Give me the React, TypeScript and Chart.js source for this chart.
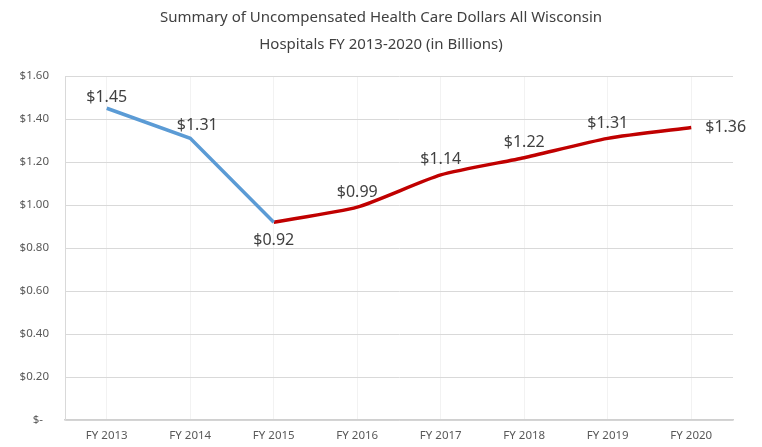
import React, { useEffect, useRef } from "react";
import { Chart, registerables } from "chart.js";

Chart.register(...registerables);

const categories = ["FY 2013", "FY 2014", "FY 2015", "FY 2016", "FY 2017", "FY 2018", "FY 2019", "FY 2020"];
const allValues = [1.45, 1.31, 0.92, 0.99, 1.14, 1.22, 1.31, 1.36];
const declineSeries = [1.45, 1.31, 0.92, null, null, null, null, null];
const recoverySeries = [null, null, 0.92, 0.99, 1.14, 1.22, 1.31, 1.36];
const titleLines = [
  "Summary of Uncompensated Health Care Dollars All Wisconsin",
  "Hospitals FY 2013-2020 (in Billions)",
];
const yMax = 1.6;
const yStep = 0.2;

const fmtMoney = (v: number) => (Math.abs(v) < 1e-9 ? "$-  " : "$" + v.toFixed(2));

const titlePlugin = {
  id: "centeredTitle",
  afterDraw(chart: any) {
    const { ctx, width } = chart;
    ctx.save();
    ctx.font = "15px 'Noto Sans'";
    ctx.fillStyle = "#404040";
    ctx.textAlign = "center";
    ctx.textBaseline = "middle";
    titleLines.forEach((t, i) => ctx.fillText(t, width / 2, 18 + i * 27));
    ctx.restore();
  },
};

const labelPlugin = {
  id: "valueLabels",
  afterDatasetsDraw(chart: any) {
    const { ctx, scales } = chart;
    const xs = scales.x;
    const ys = scales.y;
    ctx.save();
    ctx.font = "16px 'Noto Sans'";
    ctx.fillStyle = "#404040";
    ctx.textBaseline = "middle";
    allValues.forEach((v, i) => {
      const px = xs.getPixelForValue(i);
      const py = ys.getPixelForValue(v);
      let x = px;
      let y = py - 15;
      ctx.textAlign = "center";
      if (i === 2) {
        y = py + 18;
      } else if (i === allValues.length - 1) {
        ctx.textAlign = "left";
        x = px + 14;
        y = py;
      } else if (i === 1) {
        x = px + 7;
        y = py - 13;
      } else if (i === 0) {
        y = py - 11;
      }
      ctx.fillText(fmtMoney(v), x, y);
    });
    ctx.restore();
  },
};

export default function App() {
  const ref = useRef<HTMLCanvasElement | null>(null);
  useEffect(() => {
    document.body.style.margin = "0";
    const chart = new Chart(ref.current as HTMLCanvasElement, {
      type: "line",
      data: {
        labels: categories,
        datasets: [
          {
            data: declineSeries,
            borderColor: "#5B9BD5",
            borderWidth: 3.5,
            pointRadius: 0,
            tension: 0,
            spanGaps: false,
          },
          {
            data: recoverySeries,
            borderColor: "#C00000",
            borderWidth: 3.5,
            pointRadius: 0,
            tension: 0.2,
            spanGaps: false,
          },
        ],
      },
      options: {
        animation: false,
        responsive: false,
        devicePixelRatio: 1,
        layout: { padding: { left: 0, right: 29, top: 76, bottom: 0 } },
        plugins: {
          legend: { display: false },
          tooltip: { enabled: false },
          title: { display: false },
        },
        scales: {
          x: {
            offset: true,
            grid: { display: true, offset: false, color: "#f2f2f2", drawTicks: false },
            border: { display: true, color: "#d0d0d0", width: 1.5 },
            ticks: { color: "#595959", font: { family: "'Noto Sans'", size: 11.5 }, padding: 9, maxRotation: 0 },
            afterFit: (s: any) => {
              s.height = 27;
            },
          },
          y: {
            min: 0,
            max: yMax,
            grid: { color: "#d9d9d9", drawTicks: false },
            border: { display: true, color: "#d9d9d9" },
            ticks: {
              stepSize: yStep,
              color: "#595959",
              padding: 16,
              font: { family: "'Noto Sans'", size: 11.5 },
              callback: (v: any) => fmtMoney(Number(v)),
            },
            afterFit: (s: any) => {
              s.width = 65;
            },
          },
        },
      },
      plugins: [labelPlugin, titlePlugin],
    });
    return () => chart.destroy();
  }, []);
  return (
    <div style={{ width: 762, height: 447, background: "#fff" }}>
      <canvas ref={ref} width={762} height={447} style={{ display: "block" }} />
    </div>
  );
}
